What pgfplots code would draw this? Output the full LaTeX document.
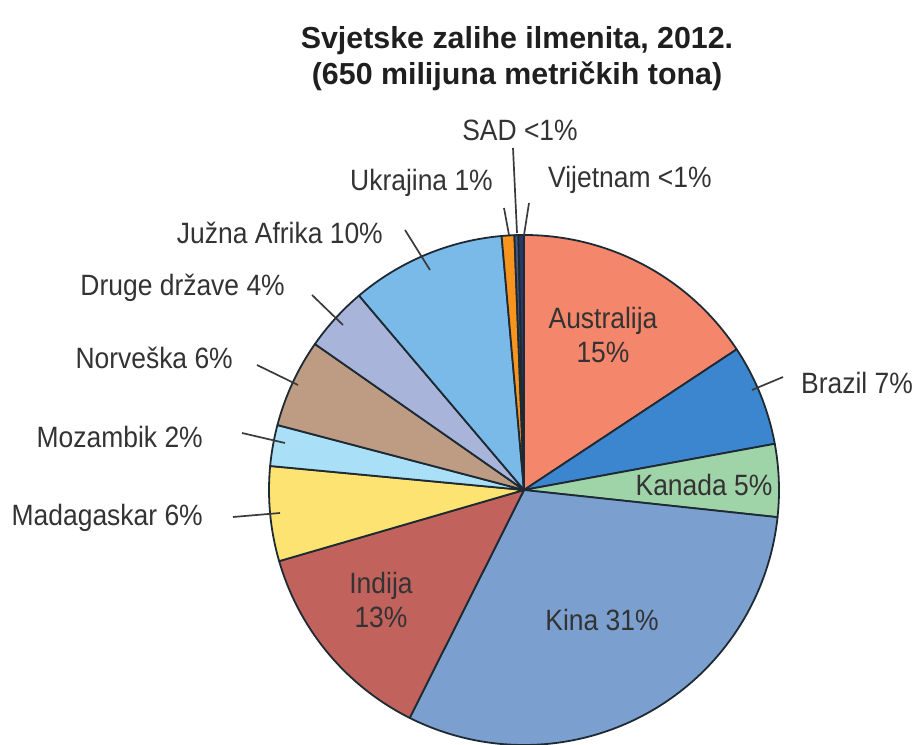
\documentclass[border=0pt]{standalone}
\usepackage{fontspec}
\setmainfont{Liberation Sans}[FakeStretch=0.9]
\newfontfamily\titlefont{Liberation Sans}
\usepackage{pgfplots}
\pgfplotsset{compat=1.18}
\definecolor{cAus}{HTML}{F4866B}
\definecolor{cBra}{HTML}{3B86CE}
\definecolor{cKan}{HTML}{9FD3A8}
\definecolor{cKin}{HTML}{7BA0D0}
\definecolor{cInd}{HTML}{C2625C}
\definecolor{cMad}{HTML}{FDE472}
\definecolor{cMoz}{HTML}{A9DFF7}
\definecolor{cNor}{HTML}{BE9C83}
\definecolor{cDru}{HTML}{A8B4DA}
\definecolor{cJuz}{HTML}{7ABAE9}
\definecolor{cUkr}{HTML}{F7941E}
\definecolor{cSad}{HTML}{4A5A88}
\definecolor{cVij}{HTML}{28386B}
\definecolor{edge}{HTML}{1E2A33}
\definecolor{txt}{HTML}{333333}
\definecolor{lead}{HTML}{3A3A3A}
\begin{document}
\begin{tikzpicture}
\useasboundingbox (0,0) rectangle (914bp,745bp);
\begin{axis}[at={(0,0)},anchor=south west,scale only axis,
  width=914bp,height=745bp,xmin=0,xmax=914,ymin=0,ymax=745,
  hide axis,clip=false]
\xdef\angstart{90}
\foreach \v/\c in {15.7/cAus,6.4/cBra,4.6/cKan,30.7/cKin,13.1/cInd,6.0/cMad,2.6/cMoz,5.6/cNor,4.1/cDru,9.8/cJuz,0.8/cUkr,0.25/cSad,0.35/cVij}{
  \pgfmathsetmacro\angend{\angstart-3.6*\v}
  \edef\temp{\noexpand\filldraw[fill=\c,draw=edge,line width=1.8pt,line join=round] (axis cs:524,255) -- ++(\angstart:255bp) arc[start angle=\angstart,end angle=\angend,radius=255bp] -- cycle;}
  \temp
  \xdef\angstart{\angend}
}
% leader lines
\begin{scope}[lead,line width=1.7pt]
\draw (axis cs:513,597) -- (axis cs:517,512);
\draw (axis cs:504,537) -- (axis cs:509,510);
\draw (axis cs:529,542) -- (axis cs:524,510);
\draw (axis cs:405,515) -- (axis cs:430,475);
\draw (axis cs:312,450) -- (axis cs:343,420);
\draw (axis cs:257,380) -- (axis cs:298,360);
\draw (axis cs:242,312) -- (axis cs:285,302);
\draw (axis cs:233,228) -- (axis cs:280,232);
\draw (axis cs:783,368) -- (axis cs:752,355);
\end{scope}
% labels
\begin{scope}[every node/.style={inner sep=0pt,text=txt,font=\fontsize{29.5}{35}\selectfont}]
\node at (axis cs:520,615) {SAD <1\%};
\node[anchor=east] at (axis cs:493,562) {Ukrajina 1\%};
\node[anchor=west] at (axis cs:548,565) {Vijetnam <1\%};
\node[anchor=east] at (axis cs:383,512) {Južna Afrika 10\%};
\node[anchor=east] at (axis cs:285,457) {Druge države 4\%};
\node[anchor=east] at (axis cs:233,387) {Norveška 6\%};
\node[anchor=east] at (axis cs:203,308) {Mozambik 2\%};
\node[anchor=east] at (axis cs:203,227) {Madagaskar 6\%};
\node[anchor=west] at (axis cs:801,362) {Brazil 7\%};
\node at (axis cs:704,260) {Kanada 5\%};
\node[align=center] at (axis cs:603,410) {Australija\\15\%};
\node[align=center] at (axis cs:381,145) {Indija\\13\%};
\node at (axis cs:602,125) {Kina 31\%};
\end{scope}
\node[inner sep=0pt,text=black!88,font=\titlefont\bfseries\fontsize{30.5}{36}\selectfont,align=center] at (axis cs:517,686) {Svjetske zalihe ilmenita, 2012.\\(650 milijuna metričkih tona)};
\end{axis}
\end{tikzpicture}
\end{document}
